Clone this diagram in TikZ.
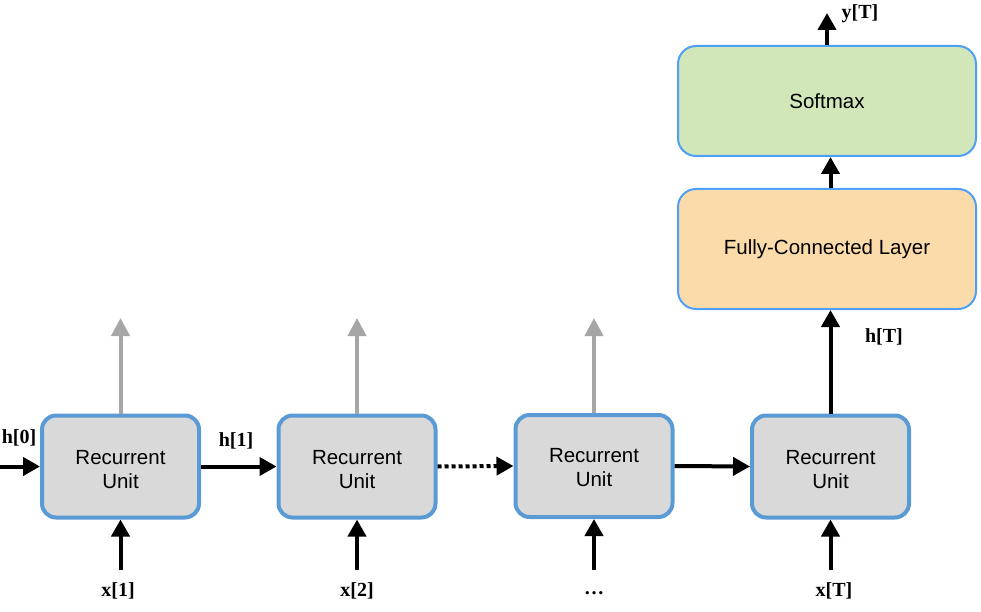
\documentclass[tikz,border=0pt]{standalone}
\usepackage{fontspec}
\setmainfont{Liberation Sans}
\newfontfamily\lblfont{Liberation Serif}
\usetikzlibrary{arrows.meta}
\definecolor{unitfill}{HTML}{D9D9D9}
\definecolor{unitborder}{HTML}{5B9BD5}
\definecolor{topborder}{HTML}{4FA0F5}
\definecolor{fcfill}{HTML}{FCDBAA}
\definecolor{smfill}{HTML}{D1E7BA}
\definecolor{outgray}{HTML}{A6A6A6}
\begin{document}
\begin{tikzpicture}[x=1pt,y=-1pt,
  unit/.style={draw=unitborder, line width=4pt, fill=unitfill, rounded corners=14pt,
    minimum width=157pt, minimum height=102pt, inner sep=0pt},
  utext/.style={align=center, inner sep=0pt, font=\fontsize{20.5}{24}\selectfont},
  topbox/.style={draw=topborder, line width=2pt, rounded corners=18pt,
    minimum width=298pt, inner sep=0pt, font=\fontsize{20.5}{24}\selectfont},
  arr/.style={line width=4pt, -{Triangle[length=17pt,width=18pt]}},
  grayarr/.style={line width=4pt, draw=outgray, -{Triangle[length=18pt,width=18pt]}, color=outgray},
  lbl/.style={font=\lblfont\bfseries\fontsize{20}{22}\selectfont, inner sep=0pt},
]
\useasboundingbox (0,0) rectangle (981,612);

\node[unit] (u1) at (120.5,466.5) {};
\node[unit] (u2) at (357,466.5) {};
\node[unit] (u3) at (594,466) {};
\node[unit] (u4) at (830.5,466.5) {};
\node[utext] (t1) at ([yshift=-3.5pt]u1.center) {Recurrent\\Unit};
\node[utext] (t2) at ([yshift=-3.5pt]u2.center) {Recurrent\\Unit};
\node[utext] (t3) at ([yshift=-2pt]u3.center) {Recurrent\\Unit};
\node[utext] (t4) at ([yshift=-3.5pt]u4.center) {Recurrent\\Unit};

\node[topbox, fill=fcfill, minimum height=120pt] (fc) at (827,249) {Fully-Connected Layer};
\node[topbox, fill=smfill, minimum height=110pt] (sm) at (827,101) {Softmax};

% gray outputs
\coordinate (o1) at (120.5,318);
\coordinate (o2) at (357,318);
\coordinate (o3) at (594,318);
\draw[grayarr] (u1.north) -- (o1);
\draw[grayarr] (u2.north) -- (o2);
\draw[grayarr] (u3.north) -- (o3);

% recurrent connections
\coordinate (h0s) at (0,466.5);
\draw[arr] (h0s) -- (u1.west);
\draw[arr] (u1.east) -- (u2.west);
\draw[arr, dash pattern=on 4pt off 3pt] (u2.east) -- (u3.west);
\draw[arr] (u3.east) -- (u4.west);

% inputs
\coordinate (i1) at (120.5,570);
\coordinate (i2) at (357,570);
\coordinate (i3) at (594,570);
\coordinate (i4) at (830.5,570);
\draw[arr] (i1) -- (u1.south);
\draw[arr] (i2) -- (u2.south);
\draw[arr] (i3) -- (u3.south);
\draw[arr] (i4) -- (u4.south);

% top chain
\draw[arr] (u4.north) -- (u4.north |- fc.south);
\draw[arr] (fc.north -| u4.north) -- (sm.south -| u4.north);
\coordinate (yout) at (827,13);
\draw[arr] (sm.north -| yout) -- (yout);

% labels
\node[lbl] (lh0) at (19,438) {h[0]};
\node[lbl] (lh1) at (236,441) {h[1]};
\node[lbl] (lx1) at (118,591) {x[1]};
\node[lbl] (lx2) at (357,591) {x[2]};
\node[lbl] (lx3) at (594,593) {\dots};
\node[lbl] (lxT) at (834,591) {x[T]};
\node[lbl] (lhT) at (884,337) {h[T]};
\node[lbl] (lyT) at (860,14) {y[T]};
\end{tikzpicture}
\end{document}
